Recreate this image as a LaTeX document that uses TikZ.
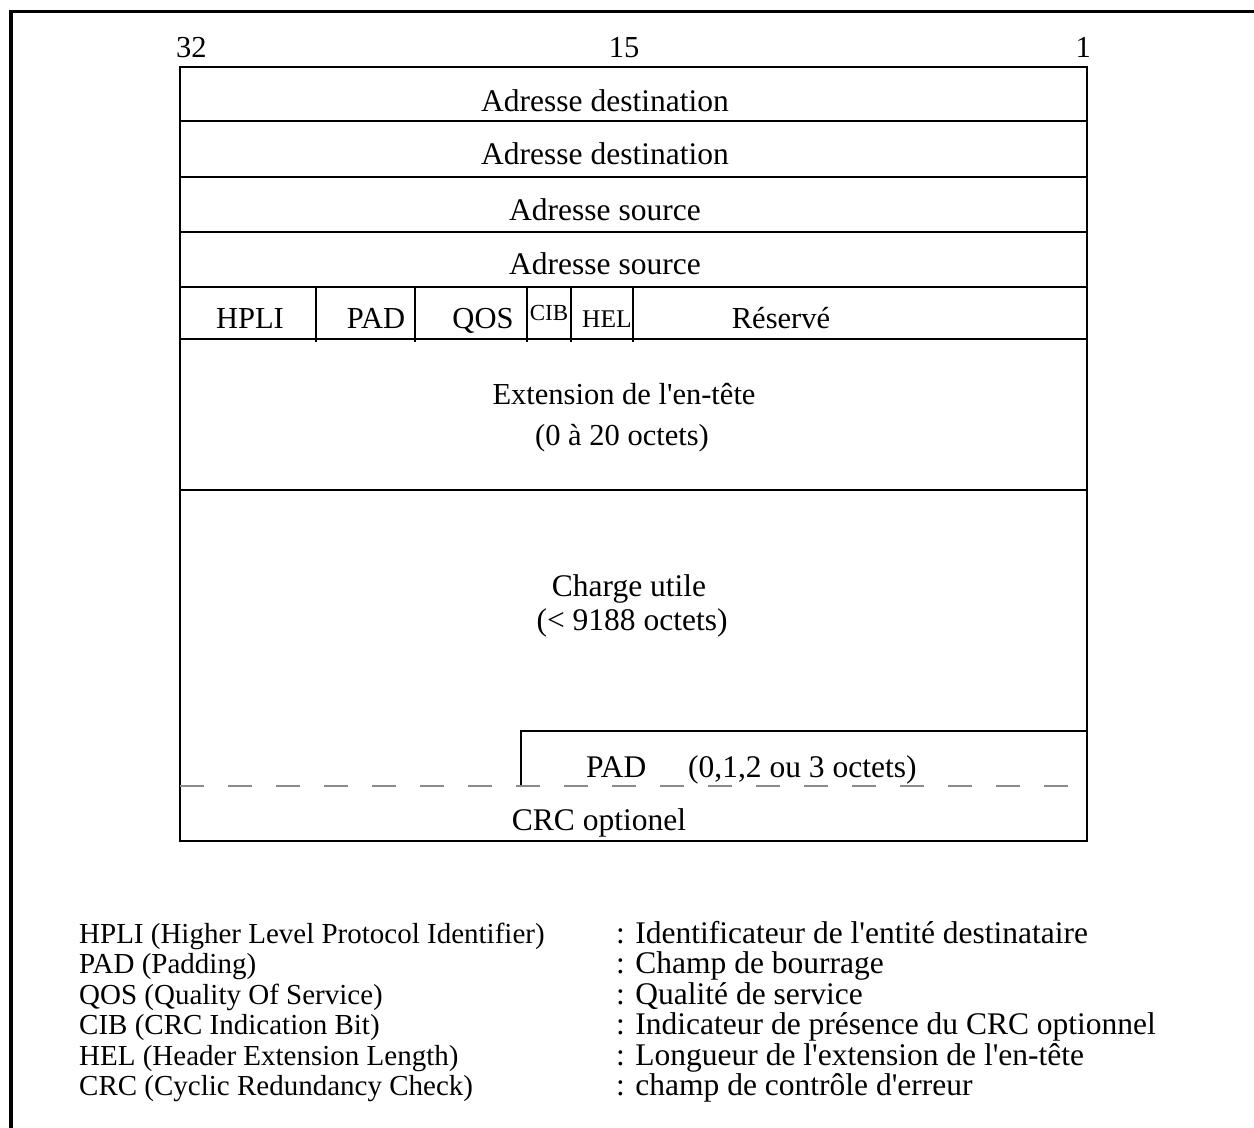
\documentclass[tikz,border=0pt]{standalone}
\usepackage{fontspec}
\setmainfont{Liberation Serif}[Ligatures=TeXOff]
\begin{document}
\begin{tikzpicture}[x=1pt,y=-1pt,
  frame/.style={line width=3.5pt},
  grid/.style={line width=2.8pt},
  dashline/.style={line width=2.8pt,draw={rgb,255:red,138;green,138;blue,138},dash pattern=on 24pt off 24pt},
  lbl/.style={inner sep=0pt,anchor=base,font=\fontsize{31.5}{32}\selectfont},
  hdr/.style={inner sep=0pt,anchor=base,font=\fontsize{30.5}{31}\selectfont},
  small/.style={inner sep=0pt,anchor=base,font=\fontsize{23}{24}\selectfont},
  leg/.style={inner sep=0pt,anchor=base west,font=\fontsize{29}{30}\selectfont},
  legr/.style={inner sep=0pt,anchor=base west,font=\fontsize{31.5}{32}\selectfont}]
\useasboundingbox (0,0) rectangle (1254,1128);
% outer frame
\draw[frame] (11,1128) -- (11,11.5) -- (1254,11.5);
% bit numbers
\node[hdr,anchor=base west] (b32) at (176,57) {32};
\node[hdr] (b15) at (624,57) {15};
\node[hdr,anchor=base east] (b1) at (1091,57) {1};
% main box
\draw[grid] (180,67) rectangle (1087,841);
\foreach \yy in {121,177,232,287,339,490} \draw[grid] (180,\yy) -- (1087,\yy);
% header row separators
\foreach \xx in {316,415,527,571,633} \draw[grid] (\xx,287) -- (\xx,342);
% PAD box
\draw[grid] (521,786) -- (521,731) -- (1087,731);
% dashed line
\draw[dashline] (180,786) -- (1087,786);
% texts
\node[lbl] (ad1) at (605,111) {Adresse destination};
\node[lbl] (ad2) at (605,164) {Adresse destination};
\node[lbl] (as1) at (605,220) {Adresse source};
\node[lbl] (as2) at (605,274) {Adresse source};
\node[hdr] (hpli) at (250,328) {HPLI};
\node[hdr] (pad) at (376,328) {PAD};
\node[hdr] (qos) at (483,328) {QOS};
\node[small] (cib) at (549,320) {CIB};
\node[inner sep=0pt,anchor=base,font=\fontsize{25.5}{26}\selectfont] (hel) at (607,327) {HEL};
\node[hdr] (res) at (781,328) {Réservé};
\node[hdr] (ext1) at (624,404) {Extension de l'en-tête};
\node[hdr] (ext2) at (622,445) {(0 à 20 octets)};
\node[lbl] (cu1) at (629,596) {Charge utile};
\node[lbl] (cu2) at (632,630) {(< 9188 octets)};
\node[lbl,anchor=base west] (pad2) at (586,777) {PAD};
\node[lbl,anchor=base west] (pad3) at (688,777) {(0,1,2 ou 3 octets)};
\node[lbl] (crc) at (599,830) {CRC optionel};
% legend
\node[leg] (l1) at (79,943) {HPLI (Higher Level Protocol Identifier)};
\node[leg] (l2) at (79,973.5) {PAD (Padding)};
\node[leg] (l3) at (79,1004) {QOS (Quality Of Service)};
\node[leg] (l4) at (79,1034.5) {CIB (CRC Indication Bit)};
\node[leg] (l5) at (79,1065) {HEL (Header Extension Length)};
\node[leg] (l6) at (79,1095.5) {CRC (Cyclic Redundancy Check)};
\node[legr] (r1) at (616,943) {: Identificateur de l'entité destinataire};
\node[legr] (r2) at (616,973.5) {: Champ de bourrage};
\node[legr] (r3) at (616,1004) {: Qualité de service};
\node[legr] (r4) at (616,1034.5) {: Indicateur de présence du CRC optionnel};
\node[legr] (r5) at (616,1065) {: Longueur de l'extension de l'en-tête};
\node[legr] (r6) at (616,1095.5) {: champ de contrôle d'erreur};
\end{tikzpicture}
\end{document}
